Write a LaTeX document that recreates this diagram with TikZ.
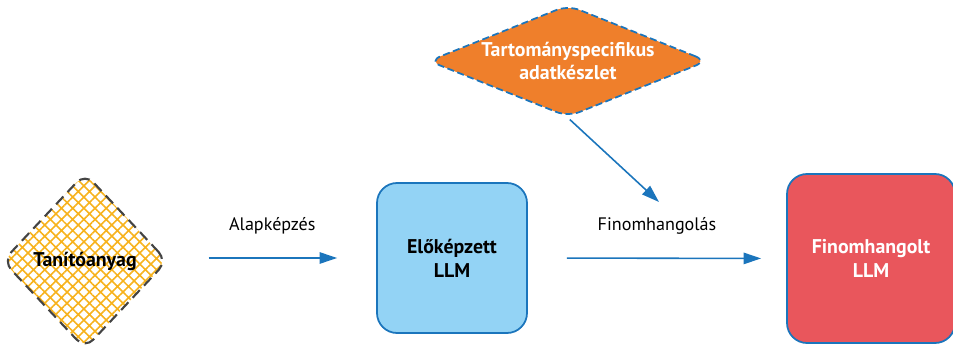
\documentclass[tikz,border=0pt]{standalone}
\usepackage{fontspec}
\setmainfont{PT Sans}
\usetikzlibrary{shapes.geometric,arrows.meta,patterns.meta}

\definecolor{flowblue}{HTML}{1B75BC}
\definecolor{llmblue}{HTML}{93D3F5}
\definecolor{llmred}{HTML}{E9565C}
\definecolor{specorange}{HTML}{EF7F2B}
\definecolor{hatchyellow}{HTML}{F7B21C}
\definecolor{edgegray}{HTML}{444444}

\tikzset{
	flow/.style={draw=flowblue, line width=0.9pt, -{Triangle[length=10pt,width=6.5pt]}},
	llmbox/.style={rectangle, rounded corners=0.4cm, line width=1pt, draw=flowblue, align=center, font=\fontsize{11.3}{13.5}\selectfont\bfseries},
	datadia/.style={diamond, rounded corners=7pt, inner sep=0pt, align=center, font=\fontsize{11.3}{13.5}\selectfont\bfseries},
	steplabel/.style={font=\fontsize{10.3}{12.5}\selectfont}
}

\begin{document}
\begin{tikzpicture}
		\useasboundingbox (0,0) rectangle (19.06,6.96);

		\node (tanito) [datadia, at= {(1.70,1.74)}, minimum width=3.3cm, minimum height=3.52cm,
			pattern={Hatch[angle=45,distance=4.5pt,line width=0.9pt]}, pattern color=hatchyellow,
			draw=edgegray, line width=1.2pt, dash pattern=on 6pt off 3.5pt] {Tanítóanyag};

		\node (elo) [llmbox, fill=llmblue, at= {(9.04,1.80)}, minimum width=3cm, minimum height=3cm] {Előképzett\\LLM};

		\node (fino) [llmbox, fill=llmred, text=white, at= {(17.42,1.79)}, minimum width=3.36cm, minimum height=3.38cm] {Finomhangolt\\LLM};

		\node (spec) [datadia, fill=specorange, text=white, at= {(11.36,5.74)}, shape aspect=2.5,
			minimum width=5.58cm, minimum height=2.24cm,
			draw=flowblue, line width=1pt, dash pattern=on 4pt off 2pt] {Tartományspecifikus\\adatkészlet};

		\draw[flow, shorten <=0.8cm, shorten >=0.78cm] (tanito.east |- elo.west) -- (elo.west)
			node (alap) [steplabel, midway, above=10pt] {Alapképzés};
		\draw[flow, shorten <=0.78cm, shorten >=0.5cm] (elo.east) -- (fino.west)
			node (finlabel) [steplabel, midway, above=10pt] {Finomhangolás};

		\coordinate (spectip) at (13.18,2.92);
		\draw[flow, shorten <=0.05cm] (spec.south) -- (spectip);
		\end{tikzpicture}
\end{document}
